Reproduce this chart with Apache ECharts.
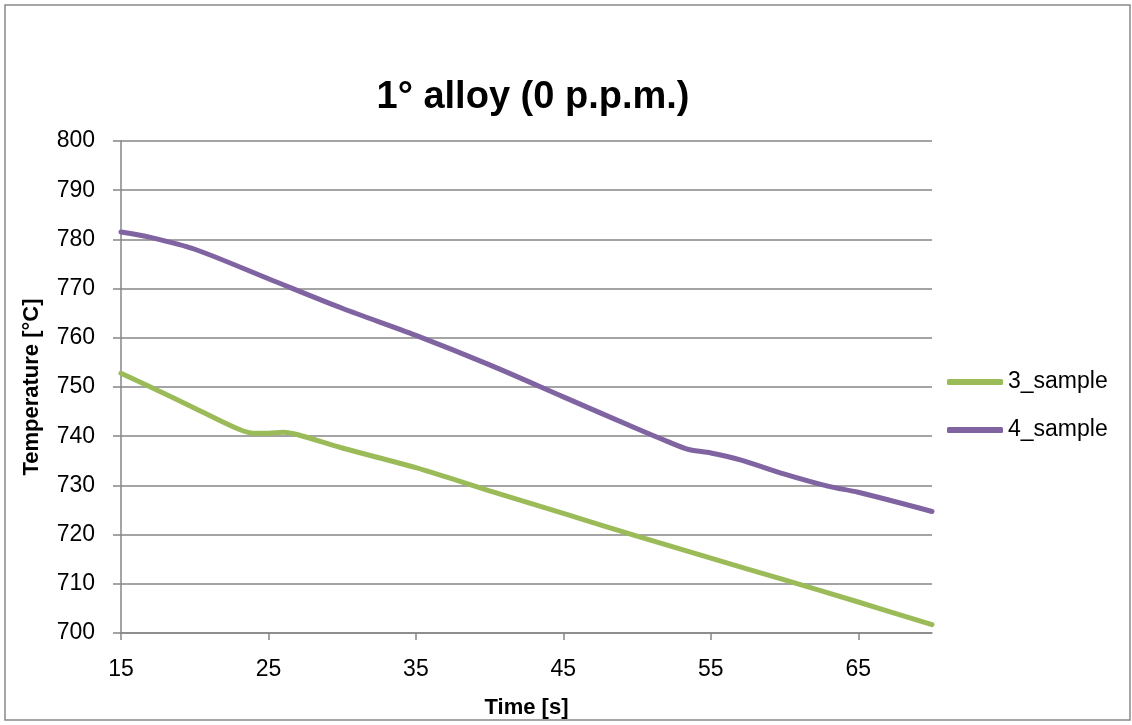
<!DOCTYPE html>
<html>
<head>
<meta charset="utf-8">
<title>1° alloy (0 p.p.m.)</title>
<script src="https://cdn.jsdelivr.net/npm/echarts@6/dist/echarts.min.js"></script>
<style>
  html, body { margin: 0; padding: 0; background: #fff; }
  #chart { width: 1132px; height: 725px; }
</style>
</head>
<body>
<div id="chart"></div>
<script>
// 3_sample readings
var time3 = [15, 17, 20, 23, 24, 25, 26, 27, 30, 35, 40, 45, 50, 55, 60, 65, 70];
var temp3 = [752.8, 750, 745.7, 741.4, 740.6, 740.6, 740.8, 740.3, 737.6, 733.6, 728.9, 724.3, 719.7, 715.2, 710.8, 706.3, 701.7];

// 4_sample readings
var time4 = [15, 17, 20, 25, 30, 35, 40, 45, 50, 52, 53.5, 55, 57, 60, 63, 65, 70];
var temp4 = [781.5, 780.4, 778, 772, 766, 760.5, 754.5, 748, 741.5, 739, 737.3, 736.6, 735.2, 732.3, 729.8, 728.6, 724.7];

var seriesNames = ["3_sample", "4_sample"];
var font = "Liberation Sans";

function pairs(xs, ys) {
  return xs.map(function (x, i) { return [x, ys[i]]; });
}

var chart = echarts.init(document.getElementById("chart"));

var option = {
  backgroundColor: "#ffffff",
  animation: false,
  textStyle: { fontFamily: font },
  title: {
    text: "1° alloy (0 p.p.m.)",
    left: 528,
    textAlign: "center",
    top: 74,
    textStyle: { fontSize: 38, fontWeight: "bold", color: "#000", fontFamily: font }
  },
  graphic: [
    {
      type: "rect",
      shape: { x: 5, y: 5, width: 1125, height: 715 },
      style: { fill: "none", stroke: "#898989", lineWidth: 1.5 },
      silent: true
    }
  ],
  legend: {
    orient: "vertical",
    left: 942,
    top: 365,
    itemWidth: 56,
    itemHeight: 6,
    itemGap: 24,
    icon: "roundRect",
    textStyle: { fontSize: 23, color: "#000", lineHeight: 24, fontFamily: font },
    data: seriesNames
  },
  grid: { left: 121, right: 200, top: 141, bottom: 92, containLabel: false },
  xAxis: {
    type: "value",
    min: 15,
    max: 70,
    interval: 10,
    name: "Time [s]",
    nameLocation: "middle",
    nameGap: 64,
    nameTextStyle: { fontSize: 22, fontWeight: "bold", color: "#000", fontFamily: font },
    axisLine: { lineStyle: { color: "#868686", width: 1.5 } },
    axisTick: { length: 7, lineStyle: { color: "#868686", width: 1.5 } },
    axisLabel: { fontSize: 23, color: "#000", margin: 25, showMaxLabel: false, fontFamily: font },
    splitLine: { show: false }
  },
  yAxis: {
    type: "value",
    min: 700,
    max: 800,
    interval: 10,
    name: "Temperature [°C]",
    nameLocation: "middle",
    nameGap: 78,
    nameRotate: 90,
    nameTextStyle: { fontSize: 22, fontWeight: "bold", color: "#000", fontFamily: font },
    axisLine: { show: true, lineStyle: { color: "#868686", width: 1.5 } },
    axisTick: { show: true, length: 8, lineStyle: { color: "#868686", width: 1.5 } },
    axisLabel: { fontSize: 23, color: "#000", margin: 26, fontFamily: font },
    splitLine: { show: true, lineStyle: { color: "#868686", width: 1.5 } }
  },
  series: [
    {
      name: seriesNames[0],
      type: "line",
      data: pairs(time3, temp3),
      smooth: 0.3,
      showSymbol: false,
      symbol: "none",
      color: "#9BBB59",
      lineStyle: { width: 5, color: "#9BBB59", cap: "round" }
    },
    {
      name: seriesNames[1],
      type: "line",
      data: pairs(time4, temp4),
      smooth: 0.3,
      showSymbol: false,
      symbol: "none",
      color: "#8064A2",
      lineStyle: { width: 5, color: "#8064A2", cap: "round" }
    }
  ]
};

chart.setOption(option);
</script>
</body>
</html>
